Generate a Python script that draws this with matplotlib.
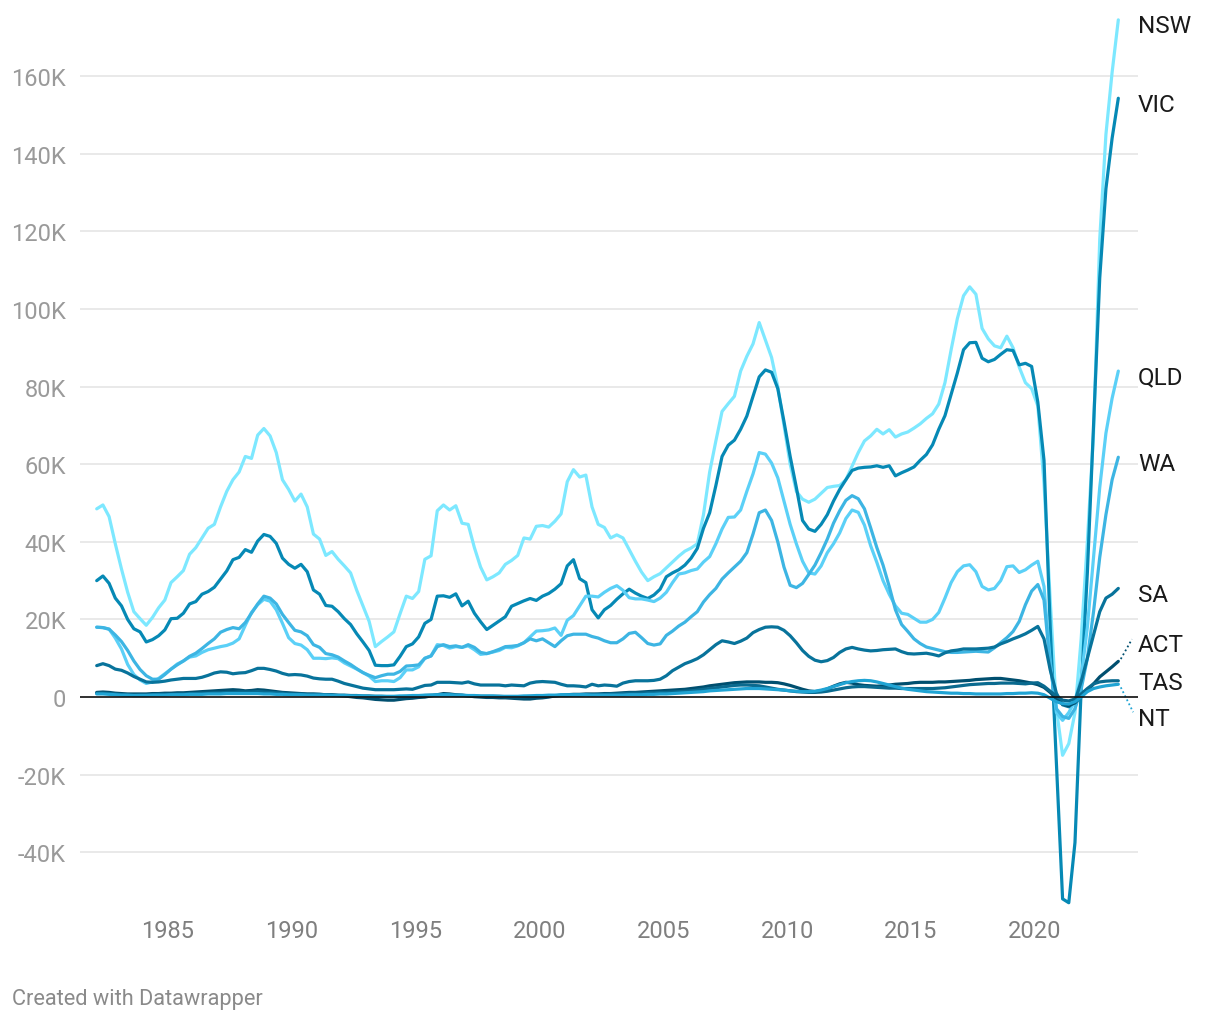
import numpy as np
import matplotlib
matplotlib.use("Agg")
import matplotlib.pyplot as plt

plt.rcParams['font.family'] = ['Roboto', 'DejaVu Sans']

# quarterly, first quarter 1982 to second quarter 2023
quarters = 1982.125 + 0.25 * np.arange(166)

nsw = [48.5, 49.5, 46.5, 39.5, 33, 27, 22, 20.2, 18.5, 20.5, 23, 25,
       29.5, 31, 32.6, 36.8, 38.5, 41, 43.5, 44.5, 49, 53, 56, 58,
       62, 61.5, 67.5, 69.2, 67.3, 63, 56, 53.5, 50.5, 52.3, 49, 42,
       40.7, 36.5, 37.5, 35.5, 33.8, 32, 27.5, 23.5, 19.5, 13, 14.3, 15.5,
       16.8, 21.5, 26, 25.4, 27.2, 35.5, 36.4, 48, 49.5, 48.2, 49.3, 44.8,
       44.5, 38.5, 33.5, 30.2, 31, 32, 34.2, 35.2, 36.5, 41, 40.7, 44,
       44.2, 43.8, 45.3, 47.2, 55.5, 58.6, 56.7, 57.2, 49, 44.5, 43.7, 41,
       41.8, 41, 38, 35, 32.2, 30, 31, 31.8, 33.3, 34.8, 36.3, 37.6,
       38.4, 39.5, 47, 58, 66, 73.6, 75.6, 77.5, 84, 87.8, 91, 96.5,
       92, 87.5, 80, 70, 60, 53, 51, 50.2, 51, 52.5, 54, 54.3,
       54.5, 56, 59.5, 63, 66, 67.3, 69, 67.8, 68.9, 67, 67.8, 68.3,
       69.3, 70.4, 71.8, 73, 75.5, 81, 89.5, 97.5, 103.4, 105.7, 103.8, 95,
       92.3, 90.5, 90, 93, 90, 85, 81, 79.5, 75, 55, 25, -3,
       -15, -12, -4, 15, 40, 68, 118, 145, 161, 174.5]

vic = [30, 31.2, 29.3, 25.5, 23.5, 20, 17.6, 16.8, 14.2, 14.8, 15.8, 17.3,
       20.2, 20.3, 21.6, 24, 24.6, 26.5, 27.2, 28.3, 30.4, 32.5, 35.4, 36,
       38, 37.3, 40.2, 41.9, 41.4, 39.6, 35.8, 34.2, 33.2, 34.2, 32.3, 27.6,
       26.5, 23.6, 23.4, 22, 20.2, 18.7, 16.3, 14.2, 12, 8.2, 8.1, 8.1,
       8.3, 10.5, 13, 13.7, 15.5, 19, 20, 26, 26.1, 25.7, 26.6, 23.5,
       24.7, 21.6, 19.4, 17.4, 18.5, 19.6, 20.7, 23.4, 24.1, 24.8, 25.4, 24.9,
       26, 26.7, 27.8, 29.2, 33.8, 35.4, 30.5, 29.5, 22.5, 20.4, 22.5, 23.6,
       25.2, 26.6, 27.8, 26.8, 26, 25.4, 26.3, 27.8, 31, 32, 32.8, 34,
       35.8, 38.3, 43.5, 47.5, 54.5, 62, 64.9, 66.2, 69, 72.4, 77.5, 82.5,
       84.3, 83.7, 79.5, 71, 62, 54, 45.5, 43.3, 42.7, 44.5, 47, 50.5,
       53.5, 56, 58.4, 59, 59.2, 59.3, 59.6, 59.2, 59.6, 57, 57.8, 58.5,
       59.3, 61, 62.5, 65, 69, 72.5, 78, 83.5, 89.5, 91.3, 91.4, 87.3,
       86.4, 87, 88.3, 89.5, 89.3, 85.6, 86, 85.2, 76, 61, 18, -17,
       -52, -53, -37.5, 2, 32, 70, 108, 131, 144, 154.3]

qld = [18, 17.9, 17.5, 15.2, 12.4, 8.4, 5.8, 4.4, 3.5, 3.9, 4.8, 6,
       7.2, 8.5, 9.3, 10.3, 10.6, 11.5, 12.2, 12.6, 13, 13.3, 13.9, 15,
       18.5, 21.8, 23.8, 25.2, 24.7, 22.5, 19, 15.3, 13.8, 13.4, 12.2, 10,
       10, 9.9, 10.1, 9.9, 8.8, 8, 7.2, 6.3, 5.4, 4, 4.2, 4.2,
       4, 5, 7, 7, 7.8, 10, 10.6, 13.5, 13.3, 12.6, 13, 12.8,
       13.2, 12.2, 11, 11.2, 11.6, 12, 12.8, 12.7, 13.2, 14, 15.5, 17,
       17.1, 17.3, 17.8, 15.9, 19.8, 21, 23.5, 26, 26, 25.8, 27, 28,
       28.7, 27.5, 25.6, 25.3, 25.3, 25, 24.6, 25.5, 27, 29.5, 31.7, 32,
       32.6, 33, 34.8, 36.2, 39.5, 43.3, 46.3, 46.4, 48.2, 53, 57.5, 63,
       62.6, 60.3, 56.5, 50.5, 44.5, 39.5, 35, 32, 31.7, 33.8, 37.2, 39.5,
       42.3, 46, 48.2, 47.6, 44.3, 39, 34.7, 30, 26.5, 23.5, 21.6, 21.3,
       20.3, 19.3, 19.3, 20, 21.8, 25.5, 29.5, 32.3, 33.8, 34.1, 32.3, 28.5,
       27.6, 28, 30, 33.6, 33.8, 32.1, 32.8, 34, 35, 28.5, 9, -4,
       -6, -4, -1, 5, 18, 36, 54, 68, 77, 84]

wa = [18, 17.9, 17.5, 16, 14.3, 12, 9.3, 7.1, 5.5, 4.6, 4.6, 5.8,
      7.2, 8.3, 9.3, 10.5, 11.3, 12.5, 13.8, 15, 16.7, 17.4, 17.9, 17.6,
      19.2, 21.6, 24, 26, 25.5, 24, 21.3, 19.2, 17.2, 16.8, 15.8, 13.5,
      12.8, 11.2, 10.9, 10.3, 9.3, 8.4, 7.3, 6.3, 5.6, 5, 5.5, 5.9,
      5.9, 6.6, 8, 8.1, 8.3, 10, 10.6, 13, 13.5, 13, 13.2, 12.8,
      13.5, 12.8, 11.5, 11.2, 11.7, 12.3, 13, 13.1, 13.3, 14, 15, 14.5,
      15, 14, 13, 14.5, 15.8, 16.2, 16.2, 16.2, 15.6, 15.2, 14.5, 14,
      14, 15, 16.4, 16.7, 15.3, 13.8, 13.4, 13.7, 15.9, 17, 18.3, 19.3,
      20.7, 22, 24.5, 26.4, 28, 30.4, 32, 33.5, 35, 37.2, 42, 47.5,
      48.2, 45.5, 40, 33.5, 28.8, 28.2, 29.3, 31.6, 34, 37.2, 40.7, 44.8,
      48, 50.7, 51.9, 51.1, 48.5, 43.6, 38.5, 34, 28.5, 22.5, 18.7, 16.9,
      15, 13.8, 12.9, 12.5, 12.1, 11.7, 11.5, 11.5, 11.6, 11.7, 11.8, 11.7,
      11.6, 12.7, 14, 15.3, 16.9, 19.5, 23.8, 27.3, 29, 25, 8, -3,
      -5, -5.5, -3, 2, 10, 22, 36, 47, 56, 61.8]

sa = [8.1, 8.6, 8.1, 7.2, 6.9, 6.2, 5.3, 4.6, 3.9, 3.8, 3.9, 4.1,
      4.4, 4.6, 4.8, 4.8, 4.8, 5.1, 5.6, 6.2, 6.5, 6.4, 6, 6.2,
      6.3, 6.8, 7.4, 7.4, 7.1, 6.7, 6.1, 5.7, 5.8, 5.7, 5.4, 4.9,
      4.7, 4.6, 4.6, 4.1, 3.5, 3.1, 2.7, 2.3, 2.1, 1.9, 1.9, 1.9,
      1.9, 2, 2.1, 2, 2.5, 3, 3.1, 3.8, 3.8, 3.8, 3.7, 3.6,
      3.9, 3.4, 3.1, 3.1, 3.1, 3.1, 2.9, 3.1, 3, 2.9, 3.6, 3.9,
      4, 3.9, 3.8, 3.3, 2.9, 2.9, 2.8, 2.6, 3.3, 2.9, 3.1, 3,
      2.8, 3.6, 4, 4.2, 4.2, 4.2, 4.3, 4.6, 5.5, 6.8, 7.7, 8.6,
      9.2, 9.9, 10.9, 12.2, 13.5, 14.5, 14.2, 13.8, 14.4, 15.2, 16.6, 17.4,
      18, 18.1, 18, 17.2, 15.8, 14, 12, 10.5, 9.5, 9.1, 9.4, 10.2,
      11.5, 12.4, 12.8, 12.4, 12.1, 11.9, 12, 12.2, 12.3, 12.4, 11.7, 11.2,
      11.1, 11.2, 11.3, 11, 10.6, 11.4, 11.9, 12.1, 12.4, 12.4, 12.4, 12.5,
      12.6, 12.9, 13.7, 14.3, 15, 15.6, 16.3, 17.2, 18.2, 15, 7, 1,
      -2, -2.5, -1, 4, 10, 16, 22, 25.5, 26.5, 28]

act = [1.2, 1.3, 1.2, 1, 0.9, 0.8, 0.8, 0.8, 0.8, 0.9, 0.9, 1,
       1, 1.1, 1.1, 1.2, 1.3, 1.4, 1.5, 1.6, 1.7, 1.8, 1.9, 1.8,
       1.6, 1.7, 1.9, 1.8, 1.6, 1.4, 1.2, 1.1, 1, 0.9, 0.8, 0.8,
       0.7, 0.6, 0.5, 0.4, 0.3, 0.1, -0.1, -0.2, -0.4, -0.6, -0.7, -0.8,
       -0.8, -0.6, -0.4, -0.3, -0.1, 0, 0.3, 0.6, 0.9, 0.8, 0.6, 0.5,
       0.3, 0.1, 0, -0.1, -0.1, -0.2, -0.2, -0.3, -0.4, -0.5, -0.5, -0.3,
       -0.2, 0, 0.3, 0.5, 0.6, 0.7, 0.7, 0.8, 0.8, 0.8, 0.9, 0.9,
       1, 1.1, 1.2, 1.2, 1.3, 1.4, 1.5, 1.6, 1.7, 1.8, 1.9, 2,
       2.2, 2.4, 2.6, 2.9, 3.1, 3.3, 3.5, 3.7, 3.8, 3.9, 3.9, 3.9,
       3.8, 3.8, 3.7, 3.4, 3, 2.5, 2, 1.6, 1.4, 1.6, 2.1, 2.8,
       3.4, 3.8, 3.6, 3.2, 3, 2.9, 2.8, 2.9, 3.1, 3.3, 3.4, 3.5,
       3.7, 3.8, 3.8, 3.8, 3.9, 3.9, 4, 4.1, 4.2, 4.3, 4.5, 4.6,
       4.7, 4.8, 4.8, 4.6, 4.4, 4.2, 3.9, 3.6, 3.2, 2.5, 1.2, -0.5,
       -1.8, -2.2, -1.5, 0.2, 1.6, 3.4, 5.2, 6.5, 7.8, 9.2]

tas = [1, 1, 0.9, 0.8, 0.6, 0.5, 0.5, 0.6, 0.6, 0.6, 0.7, 0.7,
       0.7, 0.8, 0.8, 0.9, 0.9, 1, 1, 1.1, 1.1, 1.2, 1.2, 1.3,
       1.3, 1.3, 1.4, 1.3, 1.2, 1.1, 1, 0.9, 0.8, 0.8, 0.7, 0.7,
       0.7, 0.6, 0.6, 0.5, 0.5, 0.4, 0.4, 0.3, 0.3, 0.2, 0.2, 0.1,
       0.1, 0.1, 0.2, 0.2, 0.3, 0.4, 0.5, 0.5, 0.5, 0.5, 0.4, 0.4,
       0.3, 0.3, 0.2, 0.2, 0.2, 0.2, 0.1, 0.1, 0.1, 0.1, 0.2, 0.2,
       0.2, 0.3, 0.3, 0.4, 0.4, 0.5, 0.5, 0.6, 0.6, 0.7, 0.7, 0.8,
       0.8, 0.9, 1, 1, 1, 1.1, 1.1, 1.2, 1.2, 1.3, 1.4, 1.5,
       1.6, 1.8, 2, 2.2, 2.4, 2.6, 2.8, 3, 3.1, 3.1, 3, 2.9,
       2.6, 2.3, 2, 1.8, 1.6, 1.4, 1.3, 1.2, 1.2, 1.3, 1.5, 1.8,
       2.1, 2.4, 2.6, 2.7, 2.7, 2.6, 2.5, 2.4, 2.3, 2.3, 2.2, 2.2,
       2.2, 2.2, 2.2, 2.2, 2.3, 2.4, 2.6, 2.8, 3, 3.2, 3.3, 3.4,
       3.5, 3.5, 3.6, 3.6, 3.6, 3.5, 3.4, 3.6, 3.7, 2.8, 1.5, 0.3,
       -0.8, -1, -0.5, 0.8, 2.2, 3.4, 3.9, 4.1, 4.2, 4.2]

nt = [0.8, 0.8, 0.7, 0.6, 0.5, 0.5, 0.4, 0.4, 0.4, 0.5, 0.5, 0.5,
      0.6, 0.6, 0.6, 0.7, 0.7, 0.7, 0.8, 0.8, 0.8, 0.9, 0.9, 0.9,
      0.9, 0.9, 0.9, 0.8, 0.8, 0.7, 0.7, 0.6, 0.6, 0.6, 0.5, 0.5,
      0.5, 0.5, 0.4, 0.4, 0.4, 0.3, 0.3, 0.3, 0.2, 0.2, 0.2, 0.2,
      0.2, 0.3, 0.3, 0.4, 0.4, 0.5, 0.5, 0.6, 0.6, 0.6, 0.5, 0.5,
      0.4, 0.4, 0.3, 0.3, 0.3, 0.2, 0.2, 0.2, 0.2, 0.3, 0.3, 0.4,
      0.4, 0.5, 0.5, 0.6, 0.6, 0.6, 0.6, 0.6, 0.5, 0.5, 0.5, 0.5,
      0.5, 0.5, 0.6, 0.6, 0.6, 0.7, 0.7, 0.8, 0.8, 0.9, 1, 1.1,
      1.2, 1.3, 1.4, 1.6, 1.7, 1.8, 1.9, 2, 2.1, 2.2, 2.2, 2.2,
      2.1, 2, 1.9, 1.8, 1.6, 1.5, 1.4, 1.4, 1.5, 1.8, 2.2, 2.7,
      3.2, 3.7, 4, 4.2, 4.3, 4.2, 3.9, 3.5, 3.1, 2.7, 2.3, 2,
      1.8, 1.6, 1.4, 1.3, 1.2, 1.1, 1, 1, 0.9, 0.9, 0.8, 0.8,
      0.8, 0.8, 0.8, 0.9, 0.9, 1, 1, 1.1, 1, 0.6, -0.3, -1.2,
      -1.7, -1.8, -1.2, 0, 1.4, 2.2, 2.6, 2.9, 3.1, 3.3]

states = ['NSW', 'VIC', 'QLD', 'WA', 'SA', 'ACT', 'TAS', 'NT']
series = [nsw, vic, qld, wa, sa, act, tas, nt]
colors = ['#7de8ff', '#0689b5', '#5bd0f7', '#3db5e3',
          '#08739b', '#004f6f', '#0a6a8f', '#20a4d4']
# label y position (thousands) where it differs from the last value
label_y = {'ACT': 15.2, 'TAS': 5.2, 'NT': -3.9}

fig = plt.figure(figsize=(12.2, 10.2), dpi=100)
ax = fig.add_axes([80 / 1220, 1 - 915 / 1020, 1058 / 1220, 905 / 1020])

ax.set_xlim(1981.45, 2024.17)
ax.set_ylim(-55.9, 177.3)

for s, vals, c in zip(states, series, colors):
    assert len(vals) == len(quarters), s
    ax.plot(quarters, vals, color=c, lw=2.3, solid_joinstyle='round',
            solid_capstyle='round', zorder=3)

ax.axhline(0, color='#111111', lw=1.2, zorder=4)

ax.set_yticks(np.arange(-40, 161, 20))
ax.set_yticklabels(['0' if v == 0 else f'{v}K' for v in range(-40, 161, 20)])
ax.set_xticks(np.arange(1985, 2021, 5))
ax.grid(axis='y', color='#e5e5e5', lw=1.2, zorder=0)
ax.tick_params(axis='y', length=0, pad=10, labelsize=17, labelcolor='#9a9a9a')
ax.tick_params(axis='x', length=0, pad=3.5, labelsize=17, labelcolor='#7f7f7f')
for sp in ax.spines.values():
    sp.set_visible(False)

for s, vals in zip(states, series):
    ly = label_y.get(s, vals[-1])
    ax.annotate(s, xy=(1.0, ly), xycoords=('axes fraction', 'data'),
                xytext=(0, -4.3), textcoords='offset points',
                ha='left', va='center', fontsize=17.5, color='#1a1a1a')

# dotted leaders for the shifted labels
ax.plot([quarters[-1] + 0.1, quarters[-1] + 0.55], [act[-1] + 0.6, 14.9],
        ls=(0, (1, 1.5)), lw=1.3, color='#004f6f', clip_on=False)
ax.plot([quarters[-1] + 0.1, quarters[-1] + 0.6], [nt[-1] - 0.8, -3.9],
        ls=(0, (1, 1.5)), lw=1.3, color='#20a4d4', clip_on=False)

fig.text(12 / 1220, 1 - 1000 / 1020, 'Created with Datawrapper', fontsize=15.7,
         color='#8a8a8a', ha='left', va='center')

fig.savefig('out.png', dpi=100)
